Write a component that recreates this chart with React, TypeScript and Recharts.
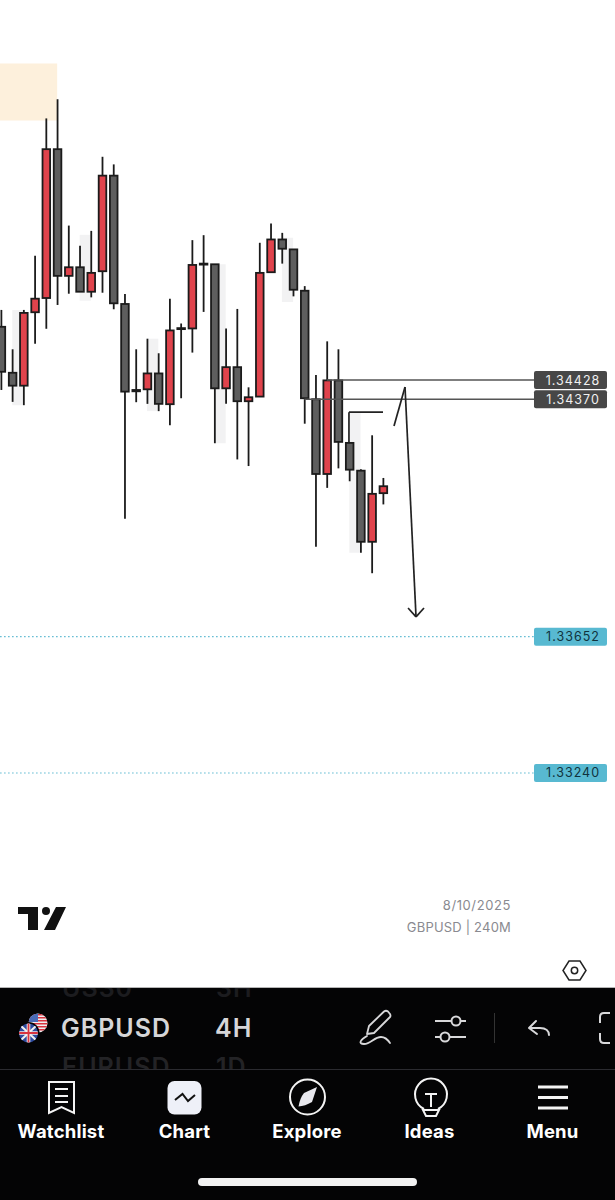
import { Bar, ComposedChart, ReferenceArea, ReferenceLine, XAxis, YAxis } from "recharts";

const highs = [1.3464, 1.34521, 1.3464, 1.34804, 1.35219, 1.35277, 1.34895, 1.34834, 1.34879, 1.35103, 1.3508, 1.34688, 1.34521, 1.34553, 1.34509, 1.34674, 1.34599, 1.34851, 1.34866, 1.34778, 1.34584, 1.34643, 1.34406, 1.34843, 1.34901, 1.34873, 1.34823, 1.34712, 1.34443, 1.34545, 1.34521, 1.34238, 1.34158, 1.34261, 1.34132];
const lows = [1.34398, 1.34362, 1.34352, 1.34538, 1.34583, 1.34655, 1.34689, 1.34695, 1.34678, 1.34692, 1.34642, 1.34009, 1.34361, 1.34356, 1.34334, 1.34291, 1.34373, 1.34511, 1.34634, 1.34237, 1.34356, 1.34188, 1.34168, 1.34378, 1.34754, 1.3478, 1.34681, 1.34296, 1.33924, 1.34102, 1.34161, 1.34122, 1.33906, 1.33844, 1.34052];
const bodyTops = [1.34589, 1.3445, 1.34631, 1.34674, 1.35126, 1.35126, 1.34769, 1.34769, 1.34752, 1.35046, 1.35046, 1.34658, 1.34398, 1.34448, 1.34448, 1.34578, 1.34585, 1.34776, 1.3478, 1.34778, 1.34467, 1.34467, 1.34376, 1.34752, 1.34853, 1.34853, 1.34823, 1.34698, 1.3437, 1.34427, 1.34427, 1.34238, 1.34154, 1.34084, 1.34107];
const bodyBottoms = [1.34453, 1.34411, 1.34411, 1.34633, 1.34676, 1.34743, 1.34743, 1.34695, 1.34695, 1.34757, 1.3466, 1.34393, 1.34394, 1.344, 1.34356, 1.34355, 1.34582, 1.34584, 1.34777, 1.34403, 1.34403, 1.34364, 1.34364, 1.34378, 1.34754, 1.34825, 1.34701, 1.34373, 1.34144, 1.34144, 1.34241, 1.34157, 1.33939, 1.33939, 1.34086];
const directions = ["d", "d", "u", "u", "u", "d", "u", "d", "u", "u", "d", "d", "u", "u", "d", "u", "u", "u", "u", "d", "u", "d", "u", "u", "u", "d", "d", "d", "d", "u", "d", "d", "d", "u", "u"];

const candles = highs.map((high, i) => ({
  index: i,
  range: [lows[i], high],
  high,
  low: lows[i],
  top: bodyTops[i],
  bottom: bodyBottoms[i],
  up: directions[i] === "u",
}));

// faint boxes behind some candles: [from index, to index, top price, bottom price]
const shadeBoxes = [
  [1, 2, 1.3464, 1.34352],
  [7, 8, 1.34867, 1.34668],
  [13, 14, 1.34553, 1.34334],
  [19, 20, 1.34778, 1.34237],
  [25, 26, 1.34858, 1.34664],
  [31, 32, 1.34328, 1.33906],
];

const priceTags = [
  { price: 1.34428, label: "1.34428", from: 29, kind: "dark" },
  { price: 1.3437, label: "1.34370", from: 27, kind: "dark" },
  { price: 1.33652, label: "1.33652", from: -0.08, kind: "teal" },
  { price: 1.3324, label: "1.33240", from: -0.08, kind: "teal" },
];
const tagStartIndex = 47.44;

const drawnLines = [
  [[34.98, 1.34289], [35.96, 1.34407]],
  [[35.96, 1.34407], [36.94, 1.33712]],
  [[36.23, 1.33739], [36.94, 1.33712]],
  [[37.65, 1.33739], [36.94, 1.33712]],
  [[30.97, 1.34241], [30.97, 1.34331]],
  [[30.97, 1.34331], [34.0, 1.34331]],
];

const navItems = [
  { label: "Watchlist", center: 61 },
  { label: "Chart", center: 184.5 },
  { label: "Explore", center: 307 },
  { label: "Ideas", center: 429.5 },
  { label: "Menu", center: 552.5 },
];

const usStripeRows = [1014, 1017, 1020, 1023, 1026, 1029];

function Candle(props: any) {
  const { x, y, width, height, payload } = props;
  const cx = x + width / 2;
  const perPrice = height / (payload.high - payload.low);
  const bodyY = y + (payload.high - payload.top) * perPrice;
  const bodyH = Math.max((payload.top - payload.bottom) * perPrice, 1);
  return (
    <g>
      <line x1={cx} x2={cx} y1={y} y2={y + height} stroke="#1b1b1b" strokeWidth={1.8} />
      <rect
        x={cx - 3.8}
        y={bodyY}
        width={7.6}
        height={bodyH}
        fill={payload.up ? "#e0434c" : "#5e5e5e"}
        stroke="#1b1b1b"
        strokeWidth={1.8}
      />
    </g>
  );
}

function LevelLine(props: any) {
  const { x1, y1, x2, tag } = props;
  const dark = tag.kind === "dark";
  return (
    <g>
      <line
        x1={x1}
        x2={x2}
        y1={y1}
        y2={y1}
        stroke={dark ? "#555" : "#5bb8d0"}
        strokeWidth={dark ? 1.6 : 1.2}
        strokeDasharray={dark ? undefined : "1.5 2.5"}
      />
      <rect x={x2} y={y1 - 9} width={73} height={18} rx={2} fill={dark ? "#474747" : "#58b9d1"} />
      <text
        x={x2 + 39}
        y={y1 + 4.5}
        textAnchor="middle"
        fontFamily="Inter, sans-serif"
        fontSize={12.5}
        letterSpacing={1}
        fill={dark ? "#f0f0f0" : "#10333d"}
      >
        {tag.label}
      </text>
    </g>
  );
}

function Nav({ label, center }: { label: string; center: number }) {
  return (
    <div style={{ position: "absolute", left: center - 50, width: 100, top: 1120, textAlign: "center", color: "#fff", fontSize: 18.5, lineHeight: "22px", fontWeight: 700, letterSpacing: 0.2 }}>
      {label}
    </div>
  );
}

function BottomPanel() {
  return (
    <div style={{ position: "absolute", left: 0, top: 0, width: 615, height: 1200, fontFamily: "Inter, sans-serif" }}>
      <div style={{ position: "absolute", left: 0, top: 987, width: 615, height: 213, background: "#040405", borderTop: "1px solid #b5b5b5", boxSizing: "border-box" }} />
      <div style={{ position: "absolute", left: 0, top: 988, width: 615, height: 81, overflow: "hidden", fontWeight: 600, fontSize: 25, letterSpacing: 1, lineHeight: "30px", whiteSpace: "nowrap" }}>
        <span style={{ position: "absolute", left: 62, top: -15, color: "#1c1c1f" }}>US30</span>
        <span style={{ position: "absolute", left: 216, top: -15, color: "#1c1c1f" }}>3H</span>
        <span style={{ position: "absolute", left: 61, top: 25, color: "#d6d6d8" }}>GBPUSD</span>
        <span style={{ position: "absolute", left: 215, top: 25, color: "#d6d6d8" }}>4H</span>
        <span style={{ position: "absolute", left: 62, top: 64, color: "#232326" }}>EURUSD</span>
        <span style={{ position: "absolute", left: 216, top: 64, color: "#232326" }}>1D</span>
      </div>
      <div style={{ position: "absolute", left: 0, top: 1069, width: 615, height: 1, background: "#2b2b30" }} />
      {navItems.map((n) => (
        <Nav key={n.label} label={n.label} center={n.center} />
      ))}
      <div style={{ position: "absolute", right: 104, top: 897, fontSize: 13, letterSpacing: 0.6, color: "#8a8a90" }}>8/10/2025</div>
      <div style={{ position: "absolute", right: 104, top: 919, fontSize: 13, letterSpacing: 0.2, color: "#8a8a90", whiteSpace: "nowrap" }}>GBPUSD | 240M</div>
      <svg width={615} height={1200} style={{ position: "absolute", left: 0, top: 0 }}>
        <defs>
          <clipPath id="usClip">
            <circle cx={38} cy={1023} r={9.5} />
          </clipPath>
          <clipPath id="ukClip">
            <circle cx={28.5} cy={1033} r={9.5} />
          </clipPath>
        </defs>
        {/* logo */}
        <path d="M18 907H38V930H28V914H18Z M56 907H66L55 930H44Z" fill="#111" />
        <circle cx={46} cy={911} r={4} fill="#111" />
        {/* hexagon */}
        <path d="M569 961H580L586 970.5L580 980H569L563 970.5Z" fill="none" stroke="#222" strokeWidth={1.5} />
        <circle cx={574.5} cy={970.5} r={3.2} fill="none" stroke="#222" strokeWidth={1.5} />
        {/* flags */}
        <g clipPath="url(#usClip)">
          <rect x={28} y={1013} width={20} height={20} fill="#efeff2" />
          {usStripeRows.map((r) => (
            <rect key={r} x={28} y={r} width={20} height={1.5} fill="#d8343f" />
          ))}
          <rect x={28} y={1013} width={10} height={9} fill="#4a6cb8" />
        </g>
        <circle cx={28.5} cy={1033} r={11} fill="#040405" />
        <g clipPath="url(#ukClip)">
          <rect x={18} y={1023} width={21} height={20} fill="#2d4a9e" />
          <path d="M20 1025L37 1041M37 1025L20 1041" stroke="#eee" strokeWidth={2.2} />
          <path d="M28.5 1023V1043M18 1033H39" stroke="#eee" strokeWidth={3.6} />
          <path d="M28.5 1023V1043M18 1033H39" stroke="#d8343f" strokeWidth={1.8} />
        </g>
        {/* pen */}
        <g fill="none" stroke="#d8d8da" strokeWidth={1.8} strokeLinecap="round" strokeLinejoin="round">
          <path d="M367 1034L369 1026L384 1011.5Q386 1010 388 1011.5L390 1014Q391 1016 390 1017L374 1033Z" />
          <path d="M367 1036C360 1040 358 1044 364 1044C371 1044 374 1037 381 1037C385 1037 388 1040 390 1043" />
        </g>
        {/* sliders */}
        <g fill="none" stroke="#d8d8da" strokeWidth={2}>
          <path d="M435 1021H451.5M460.5 1021H466M435 1037H440.5M449.5 1037H466" />
          <circle cx={456} cy={1021} r={4.5} />
          <circle cx={445} cy={1037} r={4.5} />
        </g>
        <line x1={494.5} x2={494.5} y1={1013} y2={1043} stroke="#333" strokeWidth={1} />
        {/* undo */}
        <path d="M536 1021L529 1028L537 1034M529 1028H540C546 1028 549 1031 549 1035" fill="none" stroke="#d8d8da" strokeWidth={2} strokeLinecap="round" strokeLinejoin="round" />
        {/* fullscreen corner */}
        <path d="M610 1013H604C601 1013 600 1015 600 1017V1023M600 1033V1039C600 1041 601 1043 604 1043H610" fill="none" stroke="#d8d8da" strokeWidth={2} />
        {/* watchlist */}
        <g fill="none" stroke="#f4f4f4" strokeWidth={2}>
          <path d="M49 1082H74V1113L61.5 1107L49 1113Z" />
          <path d="M55 1089H68M55 1096H68M55 1102H68" />
        </g>
        {/* chart tile */}
        <rect x={167.5} y={1081} width={34} height={33.5} rx={7} fill="#eef0f8" />
        <path d="M175 1100L182.5 1094L188 1101L195 1095" fill="none" stroke="#111" strokeWidth={2} />
        {/* compass */}
        <circle cx={307.5} cy={1097} r={17.5} fill="none" stroke="#f4f4f4" strokeWidth={2} />
        <path d="M317 1087L312 1102Q305 1106 298.5 1106.5Q300 1098 304 1093Z" fill="#e8e8ee" />
        {/* idea bulb */}
        <g fill="none" stroke="#f4f4f4" strokeWidth={2}>
          <path d="M424 1109A16 16 0 1 1 438 1109" />
          <path d="M425 1094H437M431 1094V1107M423 1110H439L436 1116H426Z" />
        </g>
        {/* menu */}
        <path d="M538 1087H568M538 1097.5H568M538 1108H568" stroke="#f4f4f4" strokeWidth={3} />
        <rect x={198} y={1178} width={219} height={8} rx={4} fill="#f2f2f2" />
      </svg>
    </div>
  );
}

export default function App() {
  return (
    <div style={{ position: "absolute", left: 0, top: 0, width: 615, height: 1200, background: "#fff", overflow: "hidden" }}>
      <ComposedChart width={615} height={987} data={candles} margin={{ top: 0, right: 0, bottom: 0, left: 0 }}>
        <XAxis dataKey="index" type="number" domain={[-0.089, 54.65]} hide allowDataOverflow />
        <YAxis type="number" domain={[1.32593, 1.35577]} hide allowDataOverflow />
        <ReferenceArea x1={-0.089} x2={5} y1={1.35385} y2={1.35213} fill="#fdf0dc" fillOpacity={1} stroke="none" />
        {shadeBoxes.map((b, i) => (
          <ReferenceArea key={i} x1={b[0]} x2={b[1]} y1={b[2]} y2={b[3]} fill="#f2f2f3" fillOpacity={1} stroke="none" />
        ))}
        {priceTags.map((t) => (
          <ReferenceLine
            key={t.label}
            segment={[{ x: t.from, y: t.price }, { x: tagStartIndex, y: t.price }]}
            shape={(p: any) => <LevelLine {...p} tag={t} />}
          />
        ))}
        <Bar dataKey="range" barSize={8} shape={Candle} isAnimationActive={false} />
        {drawnLines.map((l, i) => (
          <ReferenceLine
            key={i}
            segment={[{ x: l[0][0], y: l[0][1] }, { x: l[1][0], y: l[1][1] }]}
            stroke="#222"
            strokeWidth={1.7}
          />
        ))}
      </ComposedChart>
      <BottomPanel />
    </div>
  );
}
